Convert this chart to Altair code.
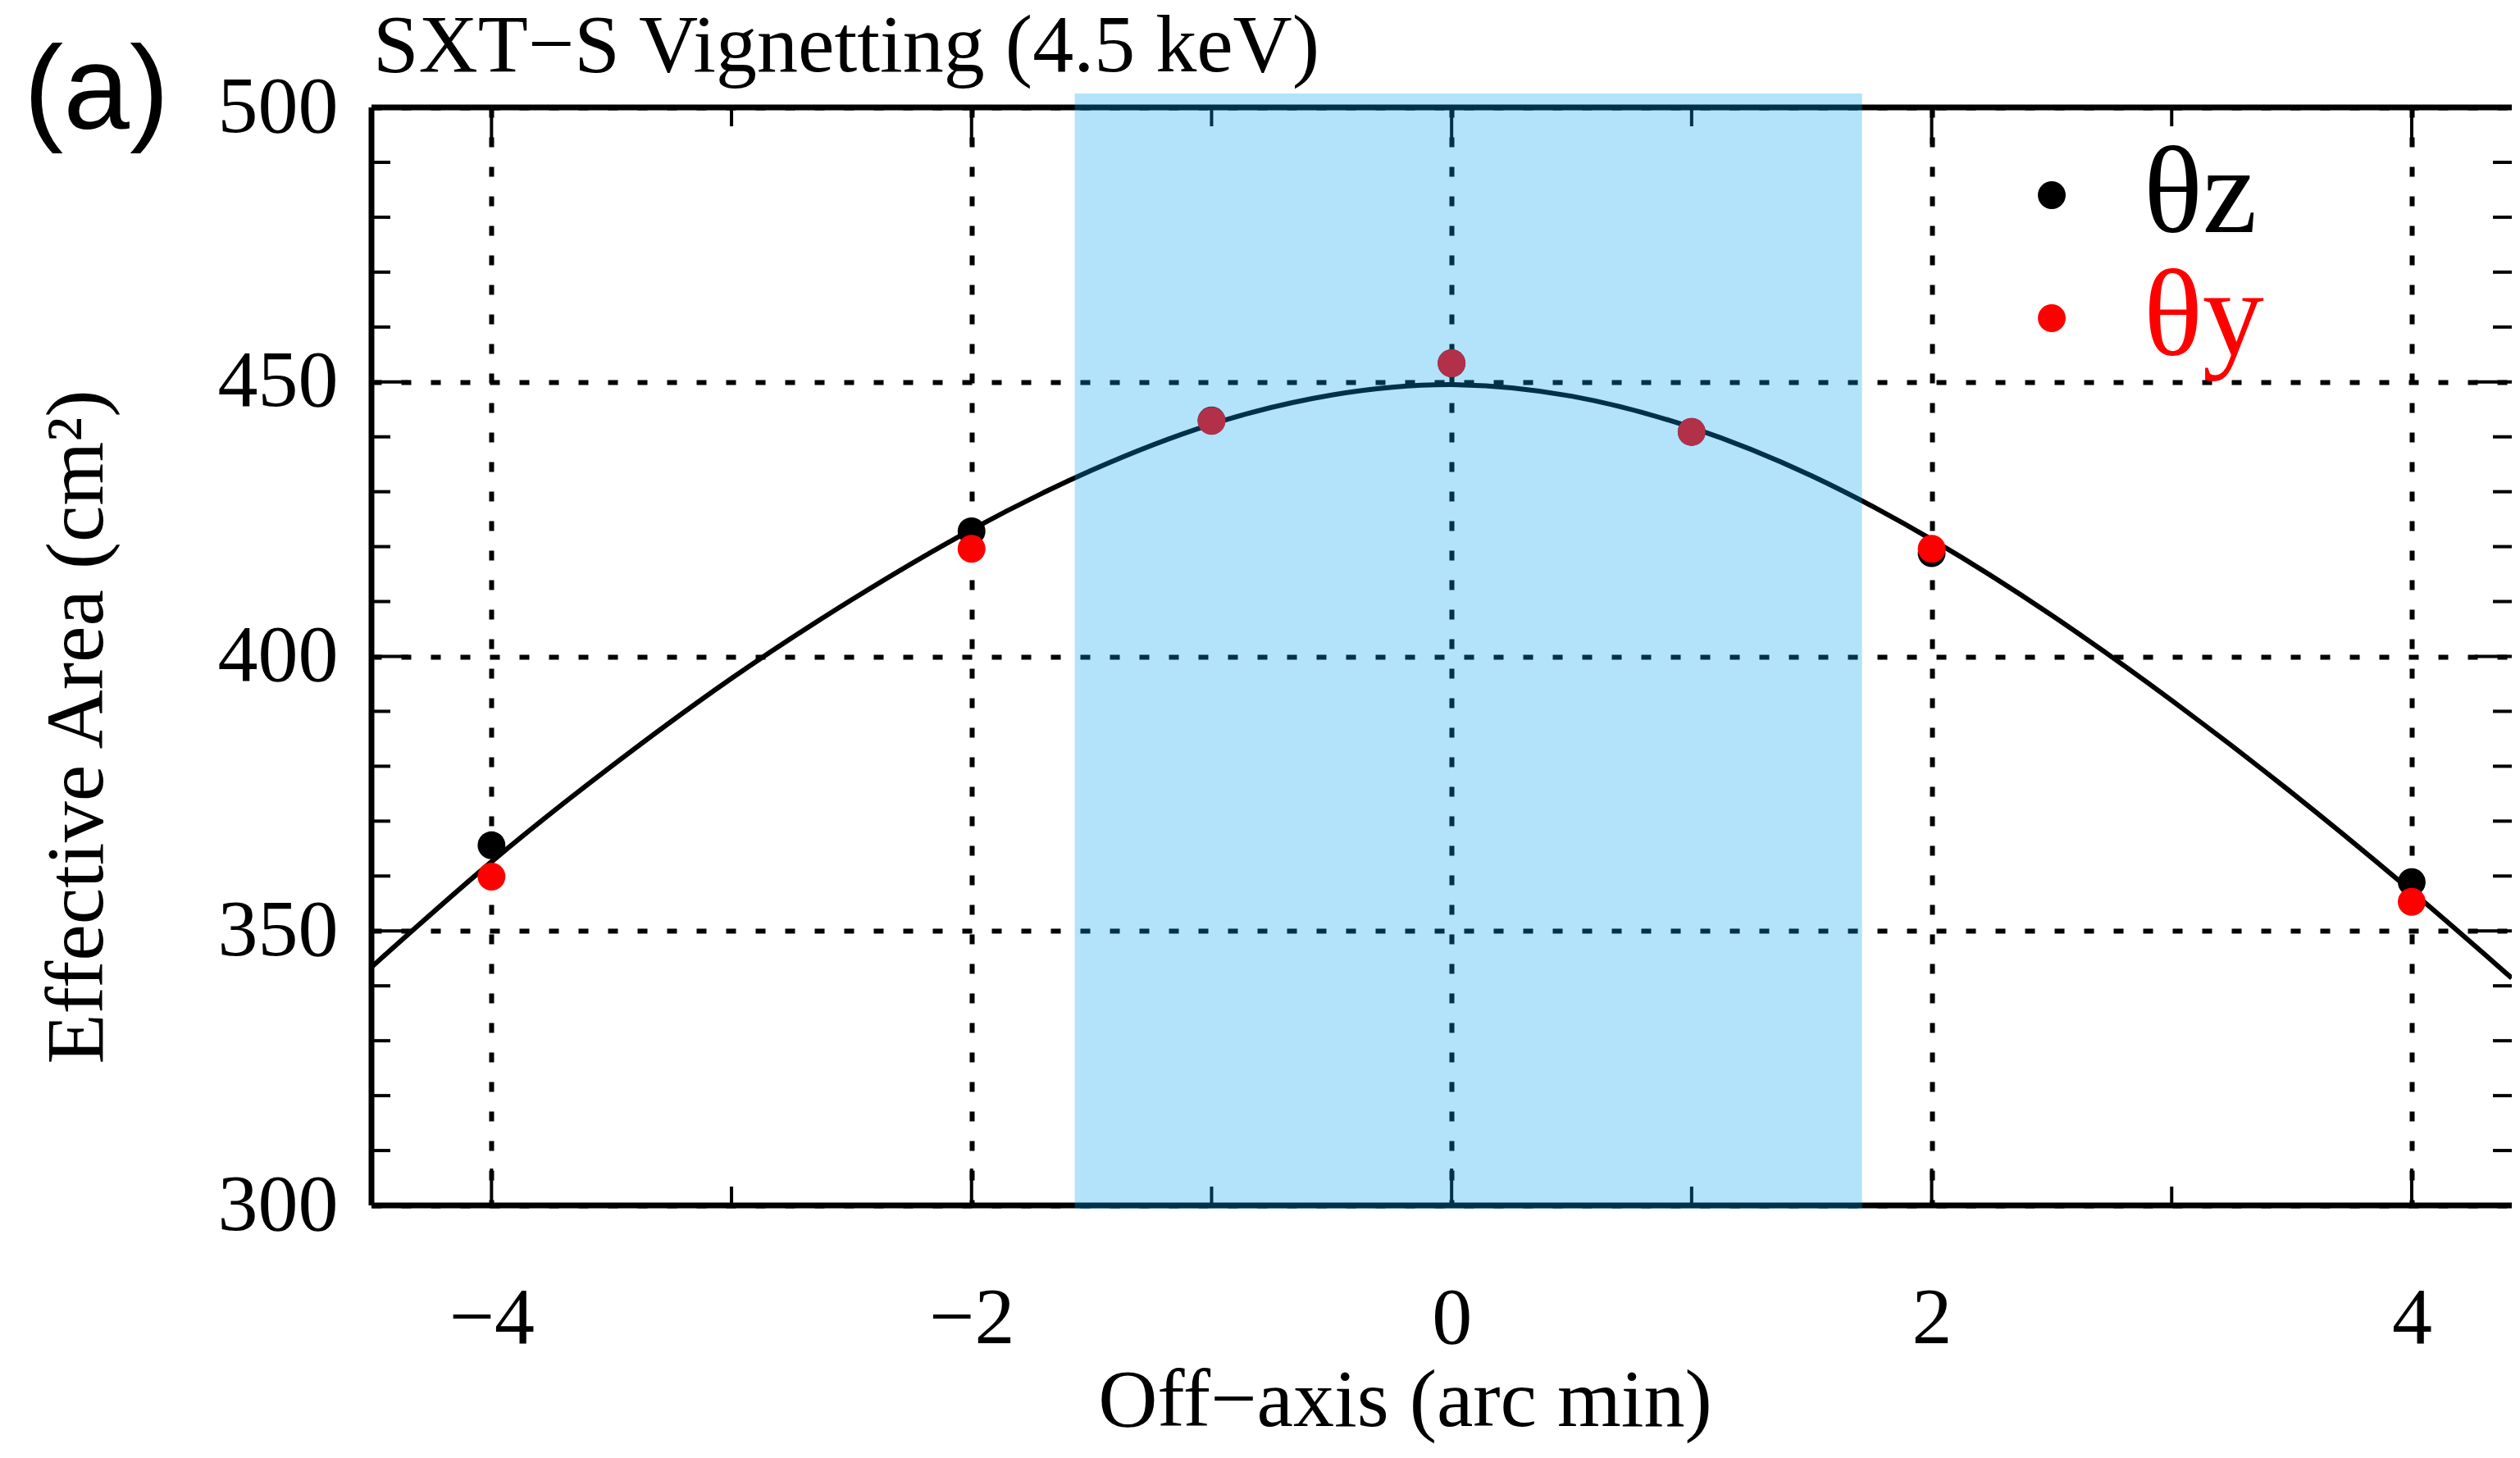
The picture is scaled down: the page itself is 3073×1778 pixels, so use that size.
import altair as alt
import pandas as pd

# ---- data ----
offaxis = [-4, -2, -1, 0, 1, 2, 4]
theta_z = [365.6, 422.8, 443.0, 453.4, 440.9, 418.8, 358.9]
theta_y = [359.9, 419.6, 442.9, 453.4, 440.9, 419.6, 355.3]

curve_x = [-4.5, -4, -3.5, -3, -2.5, -2, -1.5, -1, -0.5, 0, 0.5, 1, 1.5, 2, 2.5, 3, 3.5, 4, 4.417]
curve_y = [343.4, 362.6, 380.0, 396.0, 410.3, 423.1, 433.9, 442.3, 447.6, 449.5, 447.4, 441.7,
           432.9, 421.3, 407.5, 392.0, 375.2, 357.2, 341.4]

band_start, band_end = -1.57, 1.71

x_major = [-4, -2, 0, 2, 4]
x_minor = [-3, -1, 1, 3]
y_major = [300, 350, 400, 450, 500]
y_minor = [310, 320, 330, 340, 360, 370, 380, 390, 410, 420, 430, 440, 460, 470, 480, 490]

series_names = ["θz", "θy"]
series_colors = ["#000000", "#ff0000"]

title_text = "SXT−S Vignetting (4.5 keV)"
panel_text = "(a)"

# ---- layout ----
W, H = 2610, 1339
FONT = "Liberation Serif"
MAJ, MIN = 45, 23

xs = alt.Scale(domain=[-4.5, 4.417], nice=False, zero=False)
ys = alt.Scale(domain=[300, 500], nice=False, zero=False)

pts = pd.DataFrame({
    "x": offaxis + offaxis,
    "y": theta_z + theta_y,
    "series": [series_names[0]] * len(offaxis) + [series_names[1]] * len(offaxis),
})
curve = pd.DataFrame({"x": curve_x, "y": curve_y})

xaxis = alt.Axis(values=x_major, format="d", grid=True, gridDash=[12, 24], gridColor="black",
                 gridWidth=6, gridOpacity=1, ticks=False, tickSize=0, domain=False,
                 labelFont=FONT, labelFontSize=98, labelColor="black", labelPadding=167,
                 labelBaseline="alphabetic", labelFlush=False, labelOverlap=False,
                 title="Off−axis (arc min)", titleFont=FONT, titleFontSize=100,
                 titleFontWeight="normal", titleColor="black", titleX=1260, titleY=268,
                 titleBaseline="alphabetic", titleAlign="center", zindex=0)
yaxis = alt.Axis(values=y_major, grid=True, gridDash=[12, 24], gridColor="black",
                 gridWidth=6, gridOpacity=1, ticks=False, tickSize=0, domain=False,
                 labelFont=FONT, labelFontSize=98, labelColor="black", labelPadding=41,
                 labelBaseline="middle", labelFlush=False, labelOverlap=False,
                 title="Effective Area (cm²)", titleFont=FONT, titleFontSize=100,
                 titleFontWeight="normal", titleColor="black", titleX=-359, titleY=755,
                 titleAngle=270, titleBaseline="middle", titleAlign="center", zindex=0)

def X(field):
    return alt.X(field, scale=xs, axis=xaxis)

def Y(field):
    return alt.Y(field, scale=ys, axis=yaxis)

line = alt.Chart(curve).mark_line(color="black", strokeWidth=6, interpolate="natural").encode(
    x=X("x:Q"), y=Y("y:Q"))

points = alt.Chart(pts).mark_circle(size=1150, opacity=1).encode(
    x=X("x:Q"), y=Y("y:Q"),
    color=alt.Color("series:N", scale=alt.Scale(domain=series_names, range=series_colors),
                    legend=alt.Legend(title=None, orient="none", legendX=1974, legendY=32,
                                      padding=0, symbolSize=1150, symbolType="circle",
                                      symbolStrokeWidth=0, labelFont=FONT, labelFontSize=150,
                                      labelOffset=37, rowPadding=-33,
                                      labelColor={"expr": "datum.label == 'θy' ? '#ff0000' : '#000000'"})),
)

# frame lines
frame_h = alt.Chart(pd.DataFrame({"y": [300, 500]})).mark_rule(color="black", strokeWidth=7).encode(
    y=Y("y:Q"))
frame_v = alt.Chart(pd.DataFrame({"x": [-4.5]})).mark_rule(color="black", strokeWidth=7).encode(
    x=X("x:Q"))

def xticks(vals, length):
    d = pd.DataFrame({"x": vals})
    bot = alt.Chart(d).mark_rule(color="black", strokeWidth=4).encode(
        x=X("x:Q"), y=alt.value(H), y2=alt.value(H - length))
    top = alt.Chart(d).mark_rule(color="black", strokeWidth=4).encode(
        x=X("x:Q"), y=alt.value(0), y2=alt.value(length))
    return [bot, top]

def yticks(vals, length):
    d = pd.DataFrame({"y": vals})
    left = alt.Chart(d).mark_rule(color="black", strokeWidth=4).encode(
        y=Y("y:Q"), x=alt.value(0), x2=alt.value(length))
    right = alt.Chart(d).mark_rule(color="black", strokeWidth=4).encode(
        y=Y("y:Q"), x=alt.value(W), x2=alt.value(W - length))
    return [left, right]

tick_layers = xticks(x_major, MAJ) + xticks(x_minor, MIN) + yticks(y_major, MAJ) + yticks(y_minor, MIN)

band = alt.Chart(pd.DataFrame({"x0": [band_start], "x1": [band_end]})).mark_rect(
    color="#00a1f2", opacity=0.3).encode(
    x=X("x0:Q"), x2="x1:Q",
    y=alt.value(-17), y2=alt.value(H + 4))

panel = alt.Chart(pd.DataFrame({"t": [panel_text]})).mark_text(
    font="Liberation Sans", fontSize=145, align="left", baseline="alphabetic", color="black").encode(
    text="t:N", x=alt.value(-424), y=alt.value(26))

title = alt.Chart(pd.DataFrame({"t": [title_text]})).mark_text(
    font=FONT, fontSize=100, align="left", baseline="alphabetic", color="black").encode(
    text="t:N", x=alt.value(2), y=alt.value(-44))

chart = alt.layer(
    line, points, frame_h, frame_v, *tick_layers, band, panel, title
).properties(
    width=W, height=H,
    padding={"left": 445, "top": 123, "right": 0, "bottom": 293},
    autosize=alt.AutoSizeParams(type="none"),
).configure_view(stroke=None).configure(background="white")

chart.save("out.html", embed_options={"renderer": "svg", "actions": False})
